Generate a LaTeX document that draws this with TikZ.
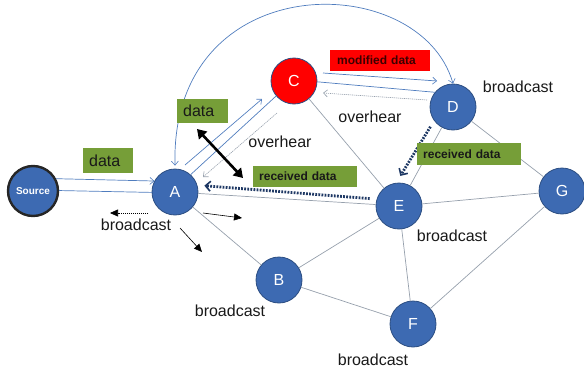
\documentclass[tikz,border=0pt]{standalone}
\usepackage{fontspec}
\setmainfont{Liberation Sans}
\usetikzlibrary{arrows.meta,calc}

\definecolor{nodeblue}{RGB}{61,106,178}
\definecolor{nodeedge}{RGB}{44,78,130}
\definecolor{boxgreen}{RGB}{118,158,56}
\definecolor{edgegray}{RGB}{150,160,172}
\definecolor{linkblue}{RGB}{80,125,190}
\definecolor{navy}{RGB}{30,56,100}
\definecolor{darkred}{RGB}{60,0,0}

\tikzset{
  netnode/.style={circle, minimum size=46pt, inner sep=0pt, fill=nodeblue,
    draw=nodeedge, line width=0.8pt, text=white, font=\fontsize{16}{16}\selectfont},
  srcnode/.style={netnode, minimum size=50pt, draw=black!85, line width=2.4pt,
    font=\bfseries\fontsize{10}{10}\selectfont},
  badnode/.style={netnode, fill=red},
  link/.style={draw=edgegray, line width=0.7pt},
  flow/.style={draw=linkblue, line width=0.7pt, -{Straight Barb[length=4pt,width=7pt,line width=0.6pt]}},
  flowline/.style={draw=linkblue, line width=0.7pt},
  hearflow/.style={draw=edgegray, line width=0.6pt, dash pattern=on 1.2pt off 0.8pt,
    -{Straight Barb[length=4pt,width=7pt,line width=0.6pt]}},
  reply/.style={draw=navy, line width=2.8pt, dash pattern=on 1.8pt off 1.3pt,
    -{Straight Barb[length=5pt,width=10pt,line width=1.6pt]}},
  castarrow/.style={draw=black, line width=0.6pt, -{Triangle[length=8pt,width=7pt]}},
  gbox/.style={fill=boxgreen, inner xsep=6pt, inner ysep=0pt, anchor=west,
    align=left, text=black!90},
  rbox/.style={gbox, fill=red, text=darkred},
  tag/.style={font=\fontsize{16}{16}\selectfont, text=black!90},
  smallbold/.style={font=\bfseries\fontsize{12}{12}\selectfont},
}

\begin{document}
\begin{tikzpicture}[x=1pt,y=-1pt]
\useasboundingbox (0,0) rectangle (584,372);

% nodes of the network
\node[srcnode] (S) at (33,191) {Source};
\node[netnode] (A) at (175,192) {A};
\node[badnode] (C) at (294,81) {C};
\node[netnode] (D) at (453,107) {D};
\node[netnode] (E) at (399,206) {E};
\node[netnode] (G) at (562,191) {G};
\node[netnode] (B) at (279,280) {B};
\node[netnode] (F) at (413,324) {F};

% plain radio links
\draw[link] (A) -- (B);
\draw[link] (A) -- (E);
\draw[link] (C) -- (E);
\draw[link] (D) -- (E);
\draw[link] (D) -- (G);
\draw[link] (E) -- (G);
\draw[link] (E) -- (B);
\draw[link] (E) -- (F);
\draw[link] (B) -- (F);
\draw[link] (G) -- (F);

% source to A
\draw[flow] (S.28) -- (A.152);
\draw[flowline] (S.1) -- (A.181);

% A and C
\draw[flow] ($(A)+(10,-27)$) -- ($(C)+(-32,18)$);
\draw[flowline] (A.48) -- (C.220);
\draw[hearflow] ($(C)+(-17,32)$) -- ($(A)+(28,-15)$);

% C and D
\draw[flow] ($(C)+(29,-8)$) -- ($(D)+(-16,-26)$);
\draw[flowline] (C.358) -- (D.141);
\draw[hearflow] ($(D)+(-26,-7)$) -- ($(C)+(29,12)$);

% long arc between A and D
\draw[flowline, {Straight Barb[length=4pt,width=7pt,line width=0.6pt]}-{Straight Barb[length=4pt,width=7pt,line width=0.6pt]}]
  ($(A.north)+(0,-3)$) .. controls (170,-34) and (420,-32) .. (D.north);

% received data returned to A and E
\draw[reply, shorten <=7pt, shorten >=7pt] (E.163) -- (A.17);
\draw[reply, shorten <=7pt, shorten >=8pt] (D.216) -- (E.97);

% bold two-way arrow
\coordinate (h1) at (197,129);
\coordinate (h2) at (243,178);
\draw[line width=2.6pt, {Triangle[length=9pt,width=11pt]}-{Triangle[length=9pt,width=11pt]}] (h1) -- (h2);

% broadcast arrows from A
\draw[castarrow, dash pattern=on 1.2pt off 0.8pt] ($(A)+(-27,21)$) -- ($(A)+(-65,21)$);
\draw[castarrow] ($(A)+(28,21)$) -- ($(A)+(67,26)$);
\draw[castarrow] ($(A)+(5,36)$) -- ($(A)+(27,60)$);

% labelled boxes
\node[gbox, tag, text width=38pt, minimum height=25pt] (d1) at (83,160.5) {data};
\node[gbox, tag, text width=39pt, minimum height=24pt] (d2) at (177,111) {data};
\node[rbox, smallbold, minimum height=21pt, inner xsep=7pt, text width=86pt] (md) at (330,60.5) {modified data};
\node[gbox, smallbold, text width=92pt, minimum height=21pt] (r1) at (253,176.5) {received data};
\node[gbox, smallbold, text width=92pt, minimum height=22pt] (r2) at (417,154) {received data};

% text labels
\node[tag] (oh1) at (280,142) {overhear};
\node[tag] (oh2) at (370,117) {overhear};
\node[tag] (bD) at (518,87) {broadcast};
\node[tag] (bA) at (136,225) {broadcast};
\node[tag] (bE) at (452,236) {broadcast};
\node[tag] (bB) at (230,311) {broadcast};
\node[tag] (bF) at (373,360) {broadcast};
\end{tikzpicture}
\end{document}
